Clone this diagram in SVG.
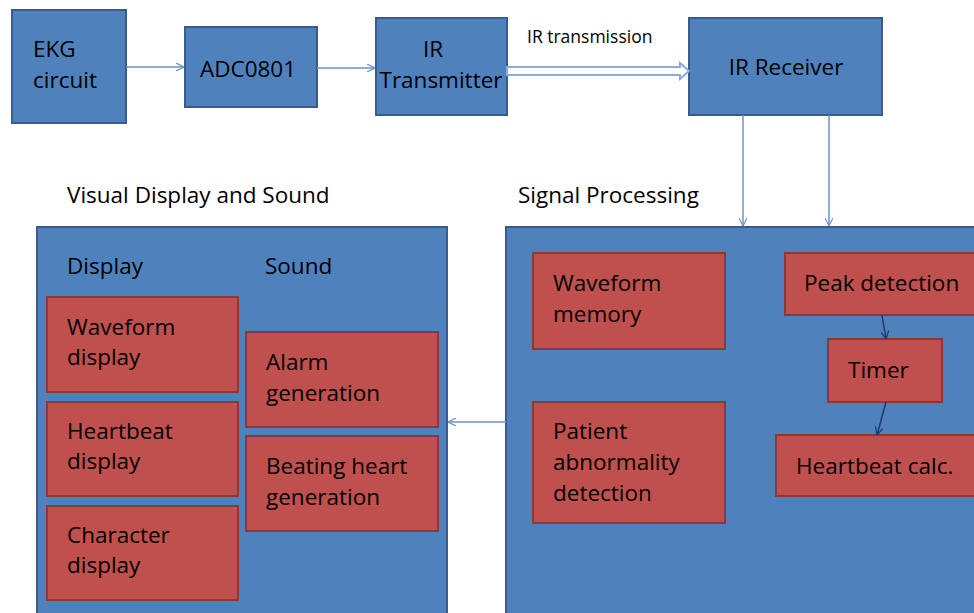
<svg xmlns="http://www.w3.org/2000/svg" width="974" height="613" viewBox="0 0 974 613">
<style>
.b{fill:#4F81BD;stroke:#385D8A;stroke-width:2}
.r{fill:#C0504D;stroke:#8C3836;stroke-width:2}
text{font-family:"Open Sans",Lato,sans-serif;font-size:22.5px;fill:#000}
.s{font-size:17.5px}
.c{stroke:#6D94C9;stroke-width:1.5;fill:none}
.d{stroke:#1F3864;stroke-width:1.5;fill:none}
</style>
<defs>
<marker id="ab" viewBox="0 0 10 10" refX="10" refY="5" markerWidth="8" markerHeight="8" orient="auto" markerUnits="userSpaceOnUse"><path d="M0,0 L10,5 L0,10" fill="none" stroke="#6D94C9" stroke-width="1.5"/></marker>
<marker id="ad" viewBox="0 0 10 10" refX="10" refY="5" markerWidth="8" markerHeight="8" orient="auto" markerUnits="userSpaceOnUse"><path d="M0,0 L10,5 L0,10" fill="none" stroke="#1F3864" stroke-width="1.5"/></marker>
</defs>
<rect width="974" height="613" fill="#fff"/>
<g id="ekg"><rect class="b" x="12" y="10" width="114" height="113"/><text x="33" y="57">EKG</text><text x="33" y="88">circuit</text></g>
<g id="adc"><rect class="b" x="185" y="27" width="132" height="80"/><text x="248" y="77" text-anchor="middle">ADC0801</text></g>
<g id="irtx"><rect class="b" x="376" y="18" width="131" height="97"/><text x="433" y="57" text-anchor="middle">IR</text><text x="441" y="88" text-anchor="middle">Transmitter</text></g>
<g id="irrx"><rect class="b" x="689" y="18" width="193" height="97"/><text x="786" y="75" text-anchor="middle">IR Receiver</text></g>
<text class="s" x="527" y="43">IR transmission</text>
<g id="visual">
<text x="67" y="203">Visual Display and Sound</text>
<rect class="b" x="37" y="227" width="410" height="400"/>
<text x="67" y="274">Display</text><text x="265" y="274">Sound</text>
<g id="wavedisp"><rect class="r" x="47" y="297" width="191" height="95"/><text x="67" y="335">Waveform</text><text x="67" y="365">display</text></g>
<g id="hbdisp"><rect class="r" x="47" y="402" width="191" height="94"/><text x="67" y="439">Heartbeat</text><text x="67" y="469">display</text></g>
<g id="chardisp"><rect class="r" x="47" y="506" width="191" height="94"/><text x="67" y="543">Character</text><text x="67" y="573">display</text></g>
<g id="alarm"><rect class="r" x="246" y="332" width="192" height="95"/><text x="266" y="370">Alarm</text><text x="266" y="401">generation</text></g>
<g id="beating"><rect class="r" x="246" y="436" width="192" height="95"/><text x="266" y="474">Beating heart</text><text x="266" y="505">generation</text></g>
</g>
<g id="signal">
<text x="518" y="203">Signal Processing</text>
<rect class="b" x="506" y="227" width="480" height="400"/>
<g id="wavemem"><rect class="r" x="533" y="253" width="192" height="96"/><text x="553" y="291">Waveform</text><text x="553" y="322">memory</text></g>
<g id="patient"><rect class="r" x="533" y="402" width="192" height="121"/><text x="553" y="439">Patient</text><text x="553" y="470">abnormality</text><text x="553" y="501">detection</text></g>
<g id="peak"><rect class="r" x="785" y="253" width="200" height="62"/><text x="804" y="291">Peak detection</text></g>
<g id="timer"><rect class="r" x="828" y="339" width="114" height="63"/><text x="848" y="378">Timer</text></g>
<g id="hbcalc"><rect class="r" x="776" y="435" width="210" height="61"/><text x="796" y="474">Heartbeat calc.</text></g>
</g>
<g id="connectors">
<line class="c" x1="126" y1="67" x2="184" y2="67" marker-end="url(#ab)"/>
<line class="c" x1="317" y1="68" x2="375" y2="68" marker-end="url(#ab)"/>
<path d="M507,67 L680,67 L680,63 L689,71 L680,79 L680,75 L507,75 Z" fill="#fff" stroke="#8EAADB" stroke-width="2"/>
<line class="c" x1="743" y1="115" x2="743" y2="226" marker-end="url(#ab)"/>
<line class="c" x1="829" y1="115" x2="829" y2="226" marker-end="url(#ab)"/>
<line class="c" x1="506" y1="422" x2="448" y2="422" marker-end="url(#ab)"/>
<line class="d" x1="882" y1="315" x2="886" y2="339" marker-end="url(#ad)"/>
<line class="d" x1="886" y1="402" x2="877" y2="435" marker-end="url(#ad)"/>
</g>
</svg>
